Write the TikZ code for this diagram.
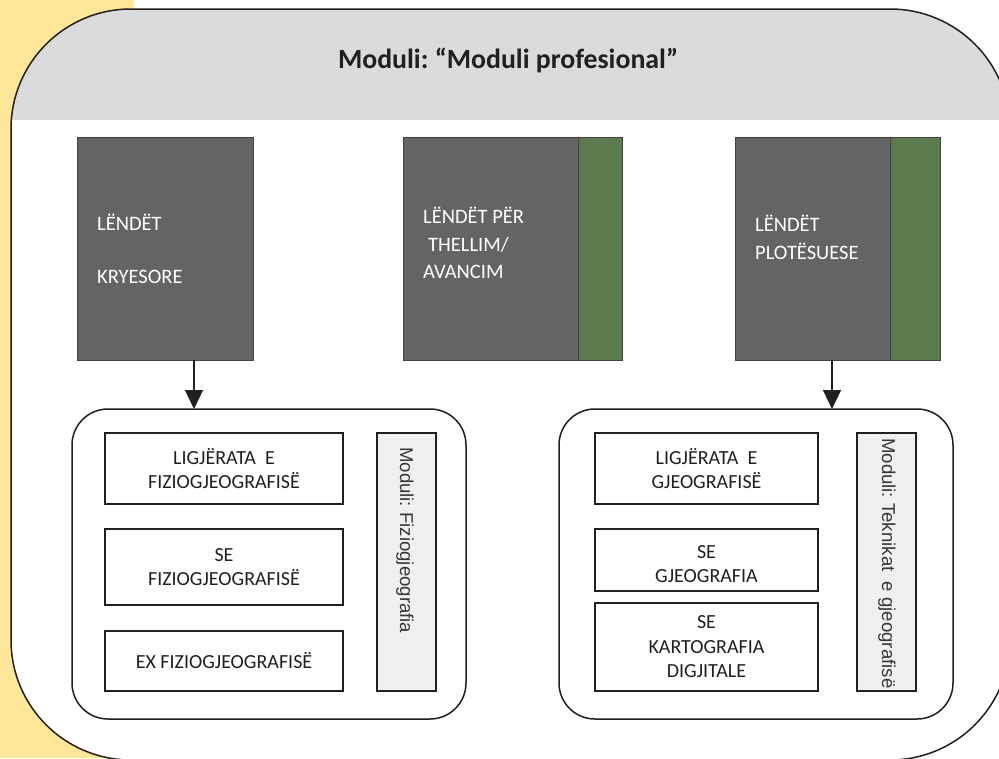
\documentclass[tikz,border=0pt]{standalone}
\usepackage{fontspec}
\setmainfont{Carlito}
\newfontfamily\arialfont{Liberation Sans}
\usetikzlibrary{arrows.meta}
\definecolor{yellowbg}{HTML}{FFE699}
\definecolor{headgray}{HTML}{DADBDD}
\definecolor{darkfill}{HTML}{636466}
\definecolor{greenfill}{HTML}{5B7A4E}
\definecolor{modfill}{HTML}{EFF0F0}
\definecolor{linecol}{HTML}{231F20}
\frenchspacing
\begin{document}
\begin{tikzpicture}[x=1pt,y=-1pt,
  darkbox/.style={draw=linecol!85, line width=1pt, fill=darkfill, anchor=north west, inner sep=0pt, outer sep=0pt},
  greenbox/.style={draw=linecol!85, line width=1pt, fill=greenfill, anchor=north west, inner sep=0pt, outer sep=0pt},
  whitetxt/.style={text=white, anchor=base west, inner sep=0pt, font=\fontsize{20.5}{28}\selectfont},
  subjbox/.style={draw=linecol, line width=1.2pt, fill=white, anchor=north west, inner sep=0pt, outer sep=0pt, align=center, text=linecol, font=\fontsize{20}{24.5}\selectfont},
  subjtxt/.style={inner sep=0pt, align=center, text=linecol, font=\fontsize{20}{24.5}\selectfont},
  modbox/.style={draw=linecol, line width=1.2pt, fill=modfill, anchor=north west, inner sep=0pt, outer sep=0pt},
  modtxt/.style={rotate=-90, anchor=west, inner sep=0pt, text=linecol!90, font=\arialfont\fontsize{18.6}{22}\selectfont},
  group/.style={draw=linecol, line width=1.5pt, rounded corners=36pt, fill=white},
  arr/.style={draw=linecol, line width=1.2pt, -{Triangle[width=18pt,length=19pt]}}
]
\useasboundingbox (0,0) rectangle (999,758);
\clip (0,0) rectangle (999,758);
% yellow band
\fill[yellowbg] (0,0) rectangle (134,758);
% big frame
\fill[white, rounded corners=120pt] (11,9) rectangle (1010,760);
\begin{scope}
  \clip[rounded corners=120pt] (11,9) rectangle (1010,760);
  \fill[headgray] (0,0) rectangle (1010,120);
\end{scope}
\draw[linecol, line width=1.5pt, rounded corners=120pt] (11,9) rectangle (1010,760);
\node[font=\bfseries\fontsize{27.8}{33}\selectfont, text=linecol, anchor=base, inner sep=0pt] (title) at (508,68) {Moduli: “Moduli profesional”};

% top boxes
\node[darkbox, minimum width=176pt, minimum height=223pt] (k1) at (77,137) {};
\node[darkbox, minimum width=175pt, minimum height=223pt] (k2) at (403,137) {};
\node[greenbox, minimum width=44pt, minimum height=223pt] (g2) at (578,137) {};
\node[darkbox, minimum width=155pt, minimum height=223pt] (k3) at (735,137) {};
\node[greenbox, minimum width=50pt, minimum height=223pt] (g3) at (890,137) {};

\node[whitetxt] (t1a) at (97,230) {LËNDËT};
\node[whitetxt] (t1b) at (97,283) {KRYESORE};
\node[whitetxt] (t2a) at (423,223) {LËNDËT PËR};
\node[whitetxt] (t2b) at (428,251) {THELLIM/};
\node[whitetxt] (t2c) at (423,278) {AVANCIM};
\node[whitetxt] (t3a) at (755,231) {LËNDËT};
\node[whitetxt] (t3b) at (755,259) {PLOTËSUESE};

% groups
\draw[group] (72,409) rectangle (466,719);
\coordinate (glt) at (269,409);
\draw[group] (559,409) rectangle (953,719);
\coordinate (grt) at (756,409);

\node[subjbox, minimum width=238pt, minimum height=71pt] (a) at (105,433) {LIGJËRATA\ \ E\\FIZIOGJEOGRAFISË};
\node[subjbox, minimum width=238pt, minimum height=76pt] (b) at (105,529) {SE\\FIZIOGJEOGRAFISË};
\node[subjbox, minimum width=238pt, minimum height=60pt] (c) at (105,631) {EX FIZIOGJEOGRAFISË};
\node[modbox, minimum width=59pt, minimum height=258pt] (m1) at (377,433) {};
\node[modtxt] (m1t) at (405,447) {Moduli: Fiziogjeografia};

\node[subjbox, minimum width=223pt, minimum height=71pt] (d) at (595,433) {LIGJËRATA\ \ E\\GJEOGRAFISË};
\node[subjbox, minimum width=223pt, minimum height=62pt] (e) at (595,529) {};
\node[subjtxt] (et) at ([yshift=-4pt]e.center) {SE\\GJEOGRAFIA};
\node[subjbox, minimum width=223pt, minimum height=88pt] (f) at (595,603) {SE\\KARTOGRAFIA\\DIGJITALE};
\node[modbox, minimum width=59pt, minimum height=258pt] (m2) at (857,433) {};
\node[modtxt] (m2t) at (887,438) {Moduli: Teknikat\ \ e gjeografisë};

% arrows
\draw[arr] ([xshift=29pt]k1.south) -- ([xshift=29pt]k1.south |- glt);
\draw[arr] ([xshift=19.5pt]k3.south) -- ([xshift=19.5pt]k3.south |- grt);
\end{tikzpicture}
\end{document}
